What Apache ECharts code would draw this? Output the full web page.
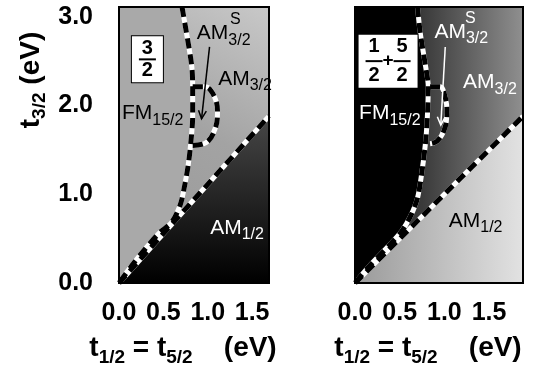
<!DOCTYPE html>
<html>
<head>
<meta charset="utf-8">
<script src="https://cdn.jsdelivr.net/npm/echarts@6/dist/echarts.min.js"></script>
<style>
	html,body{margin:0;padding:0;background:#fff;}
	#phase{width:540px;height:372px;}
</style>
</head>
<body>
<div id="phase"></div>
<script>
// tick labels
var xTicks = [0, 0.5, 1.0, 1.5];
var yTicks = [0, 1.0, 2.0, 3.0];
// axis ends (the two panels are not printed at the same width)
var xMax = [1.69, 1.88];
var yMax = 3.11;

// FM15/2 | AM3/2 boundary, (t1/2, t3/2) in eV
var fmLineA = [[0.71,3.11],[0.76,2.82],[0.82,2.44],[0.83,2.19],[0.83,1.88],[0.81,1.59],[0.78,1.33],[0.74,1.10],[0.69,0.88],[0.59,0.68],[0.46,0.57],[0.30,0.39],[0.14,0.19],[0,0]];
var fmLineB = [[0.70,3.11],[0.73,2.82],[0.79,2.44],[0.82,2.21],[0.81,1.88],[0.79,1.59],[0.75,1.26],[0.70,0.96],[0.62,0.75],[0.52,0.58],[0.36,0.40],[0.16,0.19],[0,0]];
// AM3/2 S pocket
var pocketA = [[0.83,2.21],[0.97,2.21],[1.07,2.11],[1.11,1.93],[1.08,1.73],[0.98,1.58],[0.83,1.55]];
var pocketB = [[0.84,2.21],[0.95,2.21],[1.01,2.09],[1.03,1.92],[1.00,1.73],[0.92,1.60],[0.84,1.57]];
// AM3/2 | AM1/2 boundary
var diagA = [[0,0],[1.69,1.88]];
var diagB = [[0,0],[1.88,1.88]];

window.onload = function(){
	var chart = echarts.init(document.getElementById('phase'));
	var FONT = 'Liberation Sans';
	var G = echarts.graphic.LinearGradient;

	var rich = {
		m:{fontSize:21, fontFamily:FONT, verticalAlign:'middle'},
		s:{fontSize:16, fontFamily:FONT, verticalAlign:'middle', padding:[14,0,0,0]},
		u:{fontSize:16, fontFamily:FONT},
		n:{fontSize:20, fontWeight:'bold', fontFamily:FONT, width:17, align:'center', lineHeight:20, color:'#000'},
		bar:{width:17, height:2, backgroundColor:'#000', fontSize:1},
		p:{fontSize:19, fontWeight:'bold', fontFamily:FONT, width:11, align:'center', lineHeight:9, color:'#000'},
		g:{width:11, fontSize:1}
	};
	var titleRich = {
		m:{fontSize:28, fontWeight:'bold', fontFamily:FONT, verticalAlign:'middle', color:'#000'},
		s:{fontSize:19, fontWeight:'bold', fontFamily:FONT, verticalAlign:'middle', padding:[18,0,0,0], color:'#000'}
	};
	var boxLabel = {backgroundColor:'#fff', borderColor:'#000', borderWidth:1, padding:[2,7]};

	// annotations: [x, y, text, colour]
	var notesA = [
		[1.18, 2.81, '{m|AM}{s|3/2}', '#000'],
		[1.31, 2.97, '{u|S}', '#000'],
		[1.42, 2.30, '{m|AM}{s|3/2}', '#000'],
		[0.38, 1.91, '{m|FM}{s|15/2}', '#000'],
		[1.33, 0.62, '{m|AM}{s|1/2}', '#fff'],
		[0.32, 2.52, '{n|3}\n{bar| }\n{n|2}', 'box']
	];
	var notesB = [
		[1.19, 2.83, '{m|AM}{s|3/2}', '#fff'],
		[1.29, 2.98, '{u|S}', '#fff'],
		[1.51, 2.26, '{m|AM}{s|3/2}', '#fff'],
		[0.39, 1.91, '{m|FM}{s|15/2}', '#fff'],
		[1.35, 0.70, '{m|AM}{s|1/2}', '#000'],
		[0.37, 2.50, '{n|1}{g| }{n|5}\n{bar| }{p|+}{bar| }\n{n|2}{g| }{n|2}', 'box']
	];
	var arrowA = [[1.02,2.66],[0.93,1.85]];
	var arrowB = [[1.01,2.66],[0.96,1.78]];

	function region(gi, pts, fill){
		return {
			type:'custom', xAxisIndex:gi, yAxisIndex:gi, silent:true, data:[0], z:1,
			renderItem:function(params, api){
				return {type:'polygon', shape:{points:pts.map(function(p){return api.coord(p);})}, style:{fill:fill}};
			}
		};
	}
	function frame(gi){
		return {
			type:'custom', xAxisIndex:gi, yAxisIndex:gi, silent:true, data:[0], z:6,
			renderItem:function(params, api){
				var a = api.coord([0, yMax]), b = api.coord([xMax[gi], 0]);
				return {type:'rect', shape:{x:a[0], y:a[1], width:b[0]-a[0], height:b[1]-a[1]}, style:{fill:'none', stroke:'#000', lineWidth:2}};
			}
		};
	}
	function dashed(gi, pts, smooth){
		return [
			{type:'line', xAxisIndex:gi, yAxisIndex:gi, data:pts, smooth:smooth, symbol:'none', silent:true, z:3,
				lineStyle:{color:'#fff', width:5}},
			{type:'line', xAxisIndex:gi, yAxisIndex:gi, data:pts, smooth:smooth, symbol:'none', silent:true, z:4,
				lineStyle:{color:'#000', width:5, type:[10,6]}}
		];
	}
	function arrow(gi, a, color){
		return {
			type:'custom', xAxisIndex:gi, yAxisIndex:gi, silent:true, data:[0], z:5,
			renderItem:function(params, api){
				var p0 = api.coord(a[0]), p1 = api.coord(a[1]);
				var ang = Math.atan2(p1[1]-p0[1], p1[0]-p0[0]);
				var h = 9, w = 0.45;
				var l = [p1[0]-h*Math.cos(ang-w), p1[1]-h*Math.sin(ang-w)];
				var r = [p1[0]-h*Math.cos(ang+w), p1[1]-h*Math.sin(ang+w)];
				return {type:'group', children:[
					{type:'line', shape:{x1:p0[0], y1:p0[1], x2:p1[0], y2:p1[1]}, style:{stroke:color, lineWidth:1.5}},
					{type:'polyline', shape:{points:[l, p1, r]}, style:{stroke:color, fill:'none', lineWidth:1.5}}
				]};
			}
		};
	}
	function notes(gi, list){
		return {
			type:'scatter', xAxisIndex:gi, yAxisIndex:gi, symbolSize:0, silent:true, z:7,
			itemStyle:{opacity:1},
			data:list.map(function(n){
				var lab = n[3] == 'box' ? Object.assign({color:'#000'}, boxLabel) : {color:n[3]};
				return {value:[n[0], n[1]], text:n[2], label:lab};
			}),
			label:{show:true, position:'inside', opacity:1, formatter:function(p){return p.data.text;}, rich:rich}
		};
	}
	function xAxis(gi){
		return {
			gridIndex:gi, type:'value', min:0, max:xMax[gi], interval:0.5,
			axisLine:{show:false}, axisTick:{show:false}, splitLine:{show:false},
			axisLabel:{margin:18, fontSize:25, fontWeight:'bold', fontFamily:FONT, color:'#000',
				formatter:function(v){return xTicks.indexOf(v) >= 0 ? v.toFixed(1) : '';}},
			name:'{m|t}{s|1/2}{m| = t}{s|5/2}{m|    (eV)}', nameLocation:'middle', nameGap:47,
			nameTextStyle:{rich:titleRich, padding:[0,22,0,0]}
		};
	}
	function yAxis(gi){
		return {
			gridIndex:gi, type:'value', min:0, max:yMax, interval:1,
			axisLine:{show:false}, axisTick:{show:false}, splitLine:{show:false},
			axisLabel:{show:gi == 0, margin:26, fontSize:25, fontWeight:'bold', fontFamily:FONT, color:'#000',
				formatter:function(v){return yTicks.indexOf(v) >= 0 ? v.toFixed(1) : '';}}
		};
	}

	var fullA = [[0,0],[0,yMax],[xMax[0],yMax],[xMax[0],0]];
	var fullB = [[0,0],[0,yMax],[xMax[1],yMax],[xMax[1],0]];
	var am3A = fmLineA.concat([diagA[1], [xMax[0], yMax]]);
	var am3B = fmLineB.concat([diagB[1], [xMax[1], yMax]]);
	var am1A = [[0,0], diagA[1], [xMax[0], 0]];
	var am1B = [[0,0], diagB[1], [xMax[1], 0]];

	var series = [
		region(0, fullA, '#a9a9a9'),
		region(0, am3A, new G(0,1,1,0,[{offset:0,color:'#979797'},{offset:0.55,color:'#a3a3a3'},{offset:1,color:'#c8c8c8'}])),
		region(0, am1A, new G(0,0,0,1,[{offset:0,color:'#474747'},{offset:1,color:'#000'}])),
		region(1, fullB, '#000'),
		region(1, am3B, new G(0,0,1,0,[{offset:0,color:'#262626'},{offset:0.4,color:'#3a3a3a'},{offset:1,color:'#8f8f8f'}])),
		region(1, am1B, new G(0,0,1,0,[{offset:0,color:'#9a9a9a'},{offset:1,color:'#e2e2e2'}]))
	].concat(
		dashed(0, diagA, false), dashed(0, fmLineA, 0.3), dashed(0, pocketA, 0.4),
		dashed(1, diagB, false), dashed(1, fmLineB, 0.3), dashed(1, pocketB, 0.4),
		[arrow(0, arrowA, '#000'), arrow(1, arrowB, '#fff'),
		frame(0), frame(1), notes(0, notesA), notes(1, notesB)]
	);

	var option = {
		animation:false,
		backgroundColor:'#fff',
		grid:[
			{left:119, top:7, width:150, height:279},
			{left:355, top:7, width:168, height:279}
		],
		xAxis:[xAxis(0), xAxis(1)],
		yAxis:[yAxis(0), yAxis(1)],
		graphic:[{
			type:'text', x:31, y:80, rotation:Math.PI/2,
			style:{text:'{m|t}{s|3/2}{m| (eV)}', rich:titleRich, align:'center', verticalAlign:'middle'}
		}],
		series:series
	};
	chart.setOption(option);
	window.addEventListener('resize',function(){
		chart.resize()
	})
}
</script>
</body>
</html>
